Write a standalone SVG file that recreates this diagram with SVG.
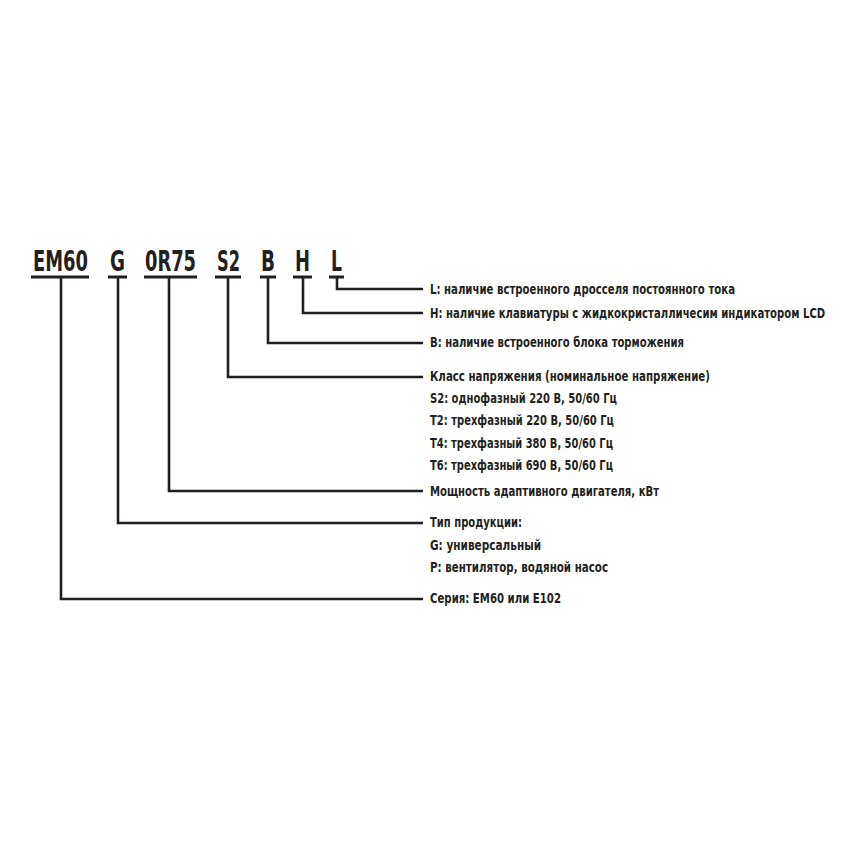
<svg xmlns="http://www.w3.org/2000/svg" width="857" height="857" viewBox="0 0 857 857">
<style>
.code{font-family:"Liberation Sans Narrow","DejaVu Sans Condensed","Liberation Sans",sans-serif;font-weight:bold;font-size:28px;fill:#231f20}
.lbl{font-family:"Liberation Sans Narrow","DejaVu Sans Condensed","Liberation Sans",sans-serif;font-weight:bold;font-size:14px;fill:#231f20}
.ul{stroke:#231f20;stroke-width:3;fill:none}
.con{stroke:#231f20;stroke-width:2.6;fill:none}
</style>
<rect width="857" height="857" fill="#ffffff"/>
<g id="code">
  <g id="seg-EM60"><text class="code" x="33" y="271" textLength="55" lengthAdjust="spacingAndGlyphs">EM60</text><line class="ul" x1="31" y1="277" x2="89" y2="277"/></g>
  <g id="seg-G"><text class="code" x="110" y="271" textLength="15" lengthAdjust="spacingAndGlyphs">G</text><line class="ul" x1="108" y1="277" x2="127" y2="277"/></g>
  <g id="seg-0R75"><text class="code" x="145" y="271" textLength="51" lengthAdjust="spacingAndGlyphs">0R75</text><line class="ul" x1="144" y1="277" x2="197" y2="277"/></g>
  <g id="seg-S2"><text class="code" x="217" y="271" textLength="23" lengthAdjust="spacingAndGlyphs">S2</text><line class="ul" x1="215" y1="277" x2="241" y2="277"/></g>
  <g id="seg-B"><text class="code" x="261" y="271" textLength="14" lengthAdjust="spacingAndGlyphs">B</text><line class="ul" x1="260" y1="277" x2="276" y2="277"/></g>
  <g id="seg-H"><text class="code" x="295" y="271" textLength="15" lengthAdjust="spacingAndGlyphs">H</text><line class="ul" x1="293" y1="277" x2="312" y2="277"/></g>
  <g id="seg-L"><text class="code" x="331" y="271" textLength="11" lengthAdjust="spacingAndGlyphs">L</text><line class="ul" x1="329" y1="277" x2="344" y2="277"/></g>
</g>
<g id="connectors">
  <path class="con" d="M61 278 V599 H423"/>
  <path class="con" d="M118 278 V523 H423"/>
  <path class="con" d="M169 278 V491 H423"/>
  <path class="con" d="M228 278 V377 H423"/>
  <path class="con" d="M268 278 V343 H423"/>
  <path class="con" d="M303 278 V313 H423"/>
  <path class="con" d="M337 278 V289 H423"/>
</g>
<g id="label-L"><text class="lbl" x="430" y="294" textLength="305" lengthAdjust="spacingAndGlyphs">L: наличие встроенного дросселя постоянного тока</text></g>
<g id="label-H"><text class="lbl" transform="translate(430,318) scale(0.8,1)" x="0" y="0" textLength="494" lengthAdjust="spacingAndGlyphs">H: наличие клавиатуры с жидкокристалличесим индикатором LCD</text></g>
<g id="label-B"><text class="lbl" x="430" y="347" textLength="254" lengthAdjust="spacingAndGlyphs">B: наличие встроенного блока торможения</text></g>
<g id="label-S2">
  <text class="lbl" x="430" y="381" textLength="280" lengthAdjust="spacingAndGlyphs">Класс напряжения (номинальное напряжение)</text>
  <text class="lbl" x="430" y="403" textLength="187" lengthAdjust="spacingAndGlyphs">S2: однофазный 220 В, 50/60 Гц</text>
  <text class="lbl" x="430" y="425" textLength="184" lengthAdjust="spacingAndGlyphs">T2: трехфазный 220 В, 50/60 Гц</text>
  <text class="lbl" x="430" y="448" textLength="183" lengthAdjust="spacingAndGlyphs">T4: трехфазный 380 В, 50/60 Гц</text>
  <text class="lbl" x="430" y="470" textLength="183" lengthAdjust="spacingAndGlyphs">T6: трехфазный 690 В, 50/60 Гц</text>
</g>
<g id="label-0R75"><text class="lbl" x="430" y="496" textLength="229" lengthAdjust="spacingAndGlyphs">Мощность адаптивного двигателя, кВт</text></g>
<g id="label-G">
  <text class="lbl" x="430" y="527" textLength="92" lengthAdjust="spacingAndGlyphs">Тип продукции:</text>
  <text class="lbl" x="430" y="550" textLength="111" lengthAdjust="spacingAndGlyphs">G: универсальный</text>
  <text class="lbl" x="430" y="572" textLength="178" lengthAdjust="spacingAndGlyphs">P: вентилятор, водяной насос</text>
</g>
<g id="label-EM60"><text class="lbl" x="430" y="603" textLength="131" lengthAdjust="spacingAndGlyphs">Серия: ЕМ60 или Е102</text></g>
</svg>
